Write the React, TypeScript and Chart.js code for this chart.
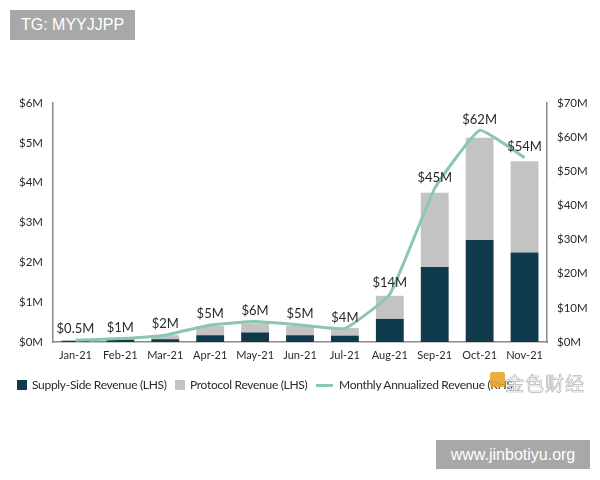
import React, { useEffect, useRef } from "react";
import { Chart, registerables } from "chart.js";

Chart.register(...registerables);

// Monthly revenue, $M (left axis, stacked)
const months = ["Jan-21", "Feb-21", "Mar-21", "Apr-21", "May-21", "Jun-21", "Jul-21", "Aug-21", "Sep-21", "Oct-21", "Nov-21"];
const supplySideRevenue = [0.03, 0.06, 0.07, 0.17, 0.24, 0.17, 0.16, 0.58, 1.88, 2.56, 2.25];
const protocolRevenue = [0.01, 0.02, 0.1, 0.23, 0.23, 0.24, 0.19, 0.58, 1.87, 2.57, 2.29];
// Monthly annualized revenue, $M (right axis)
const annualizedRevenue = [0.5, 1, 2, 5, 6, 5, 4, 14, 45, 62, 54];

const leftMax = 6;
const leftStep = 1;
const rightMax = 70;
const rightStep = 10;

const DARK = "#0e3a4b";
const GREY = "#c3c3c3";
const MINT = "#89c7b1";
const AXIS = "#8a8a8a";
const TEXT = "#2a2a2a";
const FONT = "Lato, 'Open Sans', sans-serif";

const moneyLabel = (v: number) => `$${v}M`;

// Value labels above the annualized line
const lineValueLabels = {
  id: "lineValueLabels",
  afterDatasetsDraw(chart: any) {
    const meta = chart.getDatasetMeta(2);
    const ctx = chart.ctx;
    ctx.save();
    ctx.font = `13px ${FONT}`;
    ctx.fillStyle = TEXT;
    ctx.textAlign = "center";
    ctx.textBaseline = "middle";
    meta.data.forEach((pt: any, i: number) => {
      ctx.fillText(moneyLabel(annualizedRevenue[i]), pt.x, pt.y - 11);
    });
    ctx.restore();
  },
};

function RevenueChart() {
  const ref = useRef<HTMLCanvasElement | null>(null);

  useEffect(() => {
    if (!ref.current) return;
    const chart = new Chart(ref.current, {
      type: "bar",
      data: {
        labels: months,
        datasets: [
          {
            type: "bar",
            label: "Supply-Side Revenue (LHS)",
            data: supplySideRevenue,
            backgroundColor: DARK,
            yAxisID: "y",
            stack: "rev",
            order: 2,
            categoryPercentage: 1,
            barPercentage: 0.62,
          },
          {
            type: "bar",
            label: "Protocol Revenue (LHS)",
            data: protocolRevenue,
            backgroundColor: GREY,
            yAxisID: "y",
            stack: "rev",
            order: 2,
            categoryPercentage: 1,
            barPercentage: 0.62,
          },
          {
            type: "line",
            label: "Monthly Annualized Revenue (RHS)",
            data: annualizedRevenue,
            borderColor: MINT,
            backgroundColor: MINT,
            borderWidth: 3,
            pointRadius: 0,
            tension: 0.12,
            yAxisID: "y1",
            order: 0,
          },
        ],
      },
      options: {
        responsive: false,
        animation: false,
        layout: { padding: { top: 103, left: 0, right: 0, bottom: 0 } },
        plugins: {
          legend: { display: false },
          tooltip: { enabled: false },
        },
        scales: {
          x: {
            stacked: true,
            grid: { display: false, drawTicks: false },
            border: { display: true, color: AXIS, width: 1.5 },
            ticks: { color: TEXT, font: { family: FONT, size: 11 }, padding: 7, maxRotation: 0, autoSkip: false },
            afterFit: (s: any) => { s.height = 138; },
          },
          y: {
            position: "left",
            stacked: true,
            min: 0,
            max: leftMax,
            grid: { display: false, drawTicks: false },
            border: { display: true, color: AXIS, width: 1.5 },
            ticks: { stepSize: leftStep, color: TEXT, padding: 10, font: { family: FONT, size: 11.5 }, callback: (v: any) => moneyLabel(v) },
            afterFit: (s: any) => { s.width = 53; },
          },
          y1: {
            position: "right",
            min: 0,
            max: rightMax,
            grid: { display: false, drawTicks: false },
            border: { display: true, color: AXIS, width: 1.5 },
            ticks: { stepSize: rightStep, color: TEXT, padding: 10, font: { family: FONT, size: 11.5 }, callback: (v: any) => moneyLabel(v) },
            afterFit: (s: any) => { s.width = 53; },
          },
        },
      },
      plugins: [lineValueLabels],
    } as any);
    return () => chart.destroy();
  }, []);

  return <canvas ref={ref} width={600} height={480} style={{ display: "block", width: 600, height: 480 }} />;
}

const legendText: React.CSSProperties = {
  position: "absolute",
  top: 377,
  fontFamily: FONT,
  fontSize: 12,
  letterSpacing: -0.3,
  color: TEXT,
  lineHeight: "16px",
  whiteSpace: "nowrap",
};

const tagBox: React.CSSProperties = {
  position: "absolute",
  background: "#a8a8a8",
  color: "#fff",
  fontFamily: "'Liberation Sans', Arial, sans-serif",
  fontSize: 16,
  display: "flex",
  alignItems: "center",
  justifyContent: "center",
};

export default function App() {
  return (
    <div style={{ position: "absolute", left: 0, top: 0, width: 600, height: 480, background: "#fff", overflow: "hidden" }}>
      <RevenueChart />

      {/* legend */}
      <div style={{ position: "absolute", left: 17, top: 380, width: 10, height: 10, background: DARK }} />
      <div style={{ ...legendText, left: 32 }}>Supply-Side Revenue (LHS)</div>
      <div style={{ position: "absolute", left: 175, top: 380, width: 10, height: 10, background: GREY }} />
      <div style={{ ...legendText, left: 190 }}>Protocol Revenue (LHS)</div>
      <div style={{ position: "absolute", left: 316, top: 384, width: 17, height: 3, background: MINT }} />
      <div style={{ ...legendText, left: 339 }}>Monthly Annualized Revenue (RHS)</div>

      {/* 金色财经 mark */}
      <div style={{ position: "absolute", left: 490, top: 372, width: 15, height: 15, background: "rgba(232,166,48,0.9)", borderRadius: 2 }} />
      <div
        style={{
          position: "absolute",
          left: 505,
          top: 369,
          fontFamily: "'Noto Sans CJK SC', sans-serif",
          fontSize: 19,
          color: "rgba(255,255,255,0.92)",
          WebkitTextStroke: "0.7px #b5b5b5",
          letterSpacing: 1,
          whiteSpace: "nowrap",
        }}
      >
        金色财经
      </div>

      <div style={{ ...tagBox, left: 10, top: 10, width: 125, height: 30 }}>TG: MYYJJPP</div>
      <div style={{ ...tagBox, left: 436, top: 440, width: 154, height: 29 }}>www.jinbotiyu.org</div>
    </div>
  );
}
